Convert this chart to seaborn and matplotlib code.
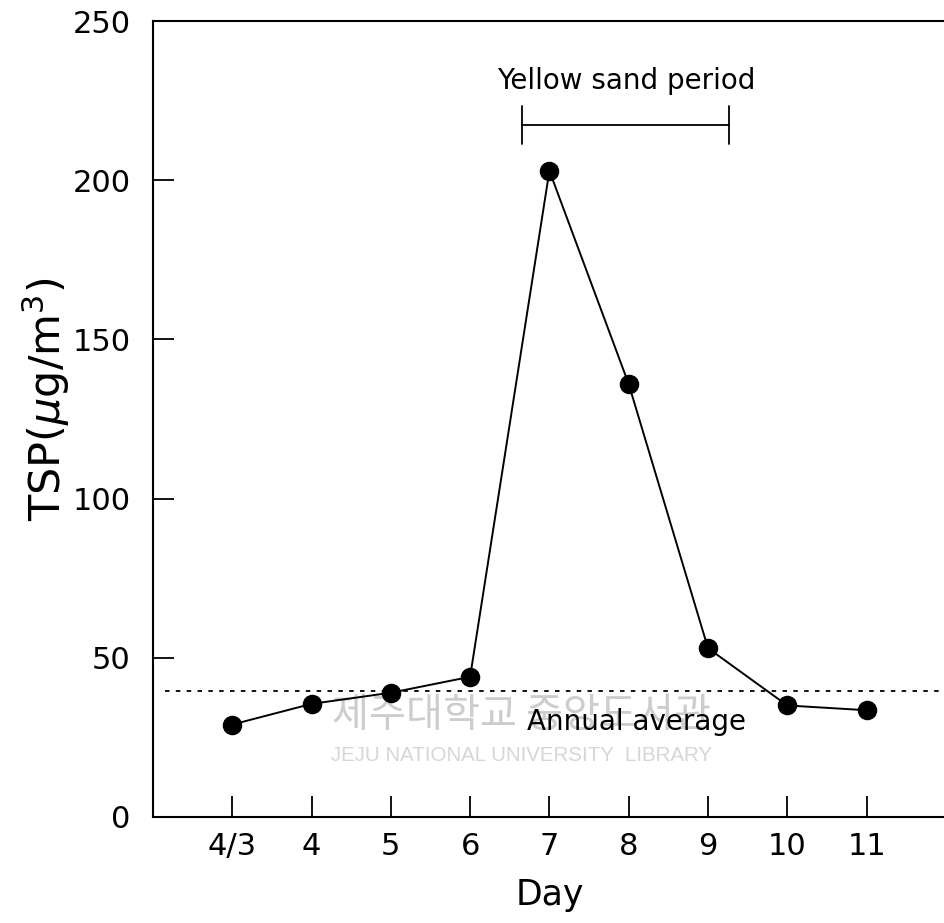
import seaborn as sns
import matplotlib.pyplot as plt
import pandas as pd

# --- data ---
days = ["4/3", "4", "5", "6", "7", "8", "9", "10", "11"]
tsp = [29, 35.5, 39, 44, 203, 136, 53, 35, 33.5]
annual_average = 39.5
yellow_sand_start = 3.66   # position on the day axis (between 6 and 7)
yellow_sand_end = 6.27     # position on the day axis (between 9 and 10)
yellow_sand_level = 217.5

df = pd.DataFrame({"Day": days, "TSP": tsp})

sns.set_style("ticks")
plt.rcParams["font.family"] = ["DejaVu Sans", "Noto Sans CJK KR"]
plt.rcParams["text.color"] = "black"
plt.rcParams["axes.labelcolor"] = "black"
plt.rcParams["xtick.color"] = "black"
plt.rcParams["ytick.color"] = "black"

fig = plt.figure(figsize=(9.44, 9.23), dpi=100)
ax = fig.add_axes([0.162, 0.115, 0.84, 0.862])

# library watermark in the scanned original
ax.text(3.65, 32, "제주대학교 중앙도서관", family=["Noto Sans CJK KR", "DejaVu Sans"],
        fontsize=29, color="#cdcdcd", ha="center", va="center", zorder=0)
ax.text(3.65, 19.4, "JEJU NATIONAL UNIVERSITY  LIBRARY", family=["Liberation Sans"],
        fontsize=14.8, color="#d6d6d6", ha="center", va="center", zorder=0)

sns.pointplot(data=df, x="Day", y="TSP", order=days, color="black",
              markers="o", markersize=13, linewidth=1.4, errorbar=None, ax=ax)

# annual average (dotted)
ax.axhline(annual_average, xmin=0.015, xmax=1, color="black", lw=1.3,
           ls=(0, (2.5, 3.5)), zorder=1)
ax.text(3.72, 27.4, "Annual average", fontsize=20, ha="left", va="baseline")

# yellow sand period bracket
ax.plot([yellow_sand_start, yellow_sand_end], [yellow_sand_level] * 2, color="black", lw=1.3)
for xb in (yellow_sand_start, yellow_sand_end):
    ax.plot([xb, xb], [yellow_sand_level - 6, yellow_sand_level + 6], color="black", lw=1.3)
ax.text((yellow_sand_start + yellow_sand_end) / 2, 228.8, "Yellow sand period",
        fontsize=20, ha="center", va="baseline")

ax.set_xlim(-1, 9)
ax.set_ylim(0, 250)
ax.set_yticks([0, 50, 100, 150, 200, 250])

ax.tick_params(direction="in", length=15, width=1.3, labelsize=22)
ax.tick_params(axis="x", pad=11)
ax.tick_params(axis="y", pad=16)
for side in ("left", "bottom", "top"):
    ax.spines[side].set_linewidth(1.5)
    ax.spines[side].set_color("black")
ax.spines["right"].set_visible(False)

ax.set_xlabel("Day", fontsize=25)
ax.xaxis.set_label_coords(0.5, -0.077)
ax.set_ylabel(r"TSP($\mu$g/m$^3$)", fontsize=31)
ax.yaxis.set_label_coords(-0.102, 0.525)

plt.savefig("out.png", dpi=100)
plt.close()
